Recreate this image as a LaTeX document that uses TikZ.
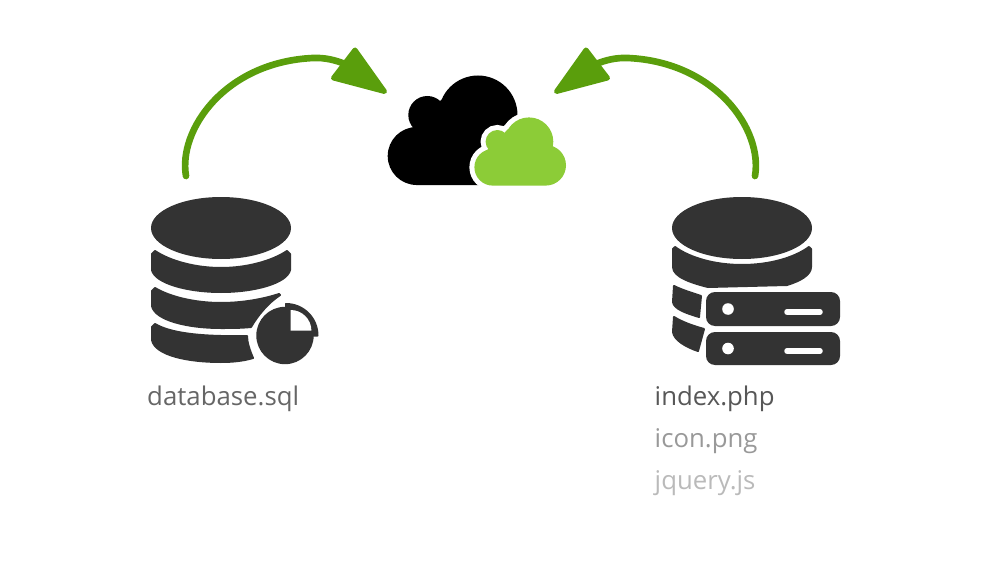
\documentclass[tikz,border=0pt]{standalone}
\usepackage{fontspec}
\setmainfont{Open Sans}
\definecolor{dark}{HTML}{333333}
\definecolor{arrowgreen}{HTML}{5A9E0C}
\definecolor{cloudgreen}{HTML}{8CCC37}
\tikzset{
  iconpart/.style={fill=dark,draw=dark,line width=0.06cm,line join=round},
  curve/.style={draw=arrowgreen,line width=0.2cm,line cap=round},
  head/.style={fill=arrowgreen,draw=arrowgreen,line width=0.15cm,line join=round},
  label/.style={anchor=base west,inner sep=0pt,font=\fontsize{22}{26}\selectfont},
  slot/.style={draw=white,line width=0.165cm,line cap=round},
}
\begin{document}
\begin{tikzpicture}[x=0.03cm,y=-0.03cm]
\useasboundingbox (0,0) rectangle (1000,563);
% anchors of the connectors
\coordinate (dbA) at (186,176);
\coordinate (dbB) at (313,58);
\coordinate (dbC) at (345,64);
\coordinate (tipA) at (384.5,91.5);
\coordinate (tipA1) at (355,50);
\coordinate (tipA2) at (333.5,78);
\coordinate (srvA) at (755,176);
\coordinate (srvB) at (628,58);
\coordinate (srvC) at (596,64);
\coordinate (tipB) at (556.5,91.5);
\coordinate (tipB1) at (586,50);
\coordinate (tipB2) at (607.5,78);
% connectors
\draw[curve] (dbA) .. controls (178,130) and (225,62) .. (dbB) .. controls (325,57.5) and (335,60) .. (dbC);
\filldraw[head] (tipA) -- (tipA1) -- (tipA2) -- cycle;
\draw[curve] (srvA) .. controls (763,130) and (716,62) .. (srvB) .. controls (616,57.5) and (606,60) .. (srvC);
\filldraw[head] (tipB) -- (tipB1) -- (tipB2) -- cycle;
% black cloud
\fill[black] (416.7,156) circle (29) (427.3,115) circle (19) (478,115) circle (39.5)
  (416,185) -- (412,135) -- (417,127) -- (427,115) -- (441.7,99.3) -- (478,115) -- (510,140) -- (500,185) -- cycle;
% green cloud with halo
\path[fill=white,draw=white,line width=0.3cm] (492.7,167.3) circle (18.3) (497.3,141.7) circle (11.7) (529,141.7) circle (24.3) (545.7,165.3) circle (20.3)
  (492,185.6) -- (487,150) -- (497,141) -- (508,129) -- (529,141) -- (552,146) -- (546,185.6) -- cycle;
\fill[cloudgreen] (492.7,167.3) circle (18.3) (497.3,141.7) circle (11.7) (529,141.7) circle (24.3) (545.7,165.3) circle (20.3)
  (492,185.6) -- (487,150) -- (497,141) -- (508,129) -- (529,141) -- (552,146) -- (546,185.6) -- cycle;
% left database
\fill[dark] (221,228) ellipse (70 and 31);
\filldraw[iconpart] (155,251) .. controls (170,261) and (195,268) .. (221,268) .. controls (247,268) and (272,261) .. (287,251)
  -- (290,254) -- (290,270) .. controls (287,283) and (255,292) .. (221,292) .. controls (187,292) and (155,283) .. (152,270) -- (152,254) -- cycle;
\filldraw[iconpart] (155,288) .. controls (170,297) and (195,303) .. (221,303) .. controls (243,303) and (264,299) .. (279,294)
  -- (280,295) .. controls (268,303) and (258,315) .. (251,327) .. controls (241,328) and (231,328) .. (221,328) .. controls (187,328) and (155,320) .. (152,306) -- (152,291) -- cycle;
\filldraw[iconpart] (155,324) .. controls (170,333) and (200,337) .. (247,336)
  .. controls (247,343) and (250,351) .. (253,358) .. controls (243,361) and (232,362) .. (221,362) .. controls (187,362) and (155,355) .. (152,340) -- (152,327) -- cycle;
% pie badge
\fill[dark] (285,335.5) circle (28.7);
\filldraw[iconpart] (286,304) arc[start angle=-90,end angle=0,radius=31.5] -- (286,335.5) -- cycle;
\fill[white] (290.7,330.7) -- (290.7,310) arc[start angle=-90,end angle=0,radius=20.7] -- cycle;
% right database
\fill[dark] (742,228) ellipse (70 and 31);
\filldraw[iconpart] (675,247) .. controls (690,258) and (715,265) .. (742,265) .. controls (769,265) and (794,258) .. (809,247)
  -- (811,249) -- (811,267) .. controls (811,275) and (800,281) .. (787,285) -- (708,287) .. controls (692,283) and (673,277) .. (673,267) -- (673,249) -- cycle;
\filldraw[iconpart] (674,286) .. controls (682,290) and (692,293) .. (701,296) -- (699,317) .. controls (686,313) and (674,309) .. (673,302) -- cycle;
\filldraw[iconpart] (674,317) .. controls (682,322) and (693,326) .. (704,329) -- (698,351) .. controls (686,347) and (674,340) .. (673,332) -- cycle;
% servers
\fill[dark,rounded corners=0.27cm] (706,292) rectangle (840,326);
\fill[dark,rounded corners=0.27cm] (706,332) rectangle (840,365);
\fill[white] (728,309) circle (5.8);
\fill[white] (728,348.5) circle (5.8);
\draw[slot] (787,312) -- (820,312);
\draw[slot] (787,351) -- (820,351);
% labels
\node[label,text=black!60] (dbname) at (147,405) {database.sql};
\node[label,text=black!66] (indexname) at (654.5,405) {index.php};
\node[label,text=black!40] (iconname) at (654.5,447) {icon.png};
\node[label,text=black!27] (jqname) at (654.5,489) {jquery.js};
\end{tikzpicture}
\end{document}
